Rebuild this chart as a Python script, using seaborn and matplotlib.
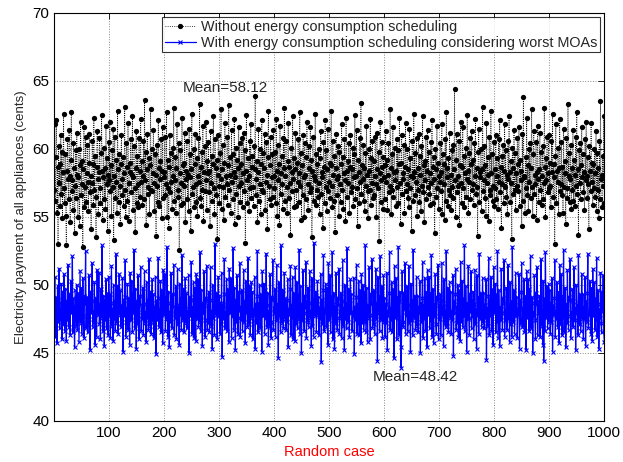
import numpy as np
import matplotlib
matplotlib.use("Agg")
import matplotlib.pyplot as plt
import seaborn as sns

# payment per random case (cents)
without_sched = [
    57.0,61.8,56.2,59.4,62.1,55.3,58.7,53.0,60.2,57.5,58.9,55.8,61.0,56.7,59.8,54.9,58.3,62.6,57.1,56.0,
    59.6,55.1,52.9,58.4,60.7,57.8,56.3,61.4,58.0,54.6,59.2,62.7,56.9,57.7,55.5,60.4,58.6,53.8,57.3,59.9,
    56.4,61.2,58.1,55.0,57.9,60.0,54.3,58.8,62.0,56.6,59.1,57.4,52.8,58.5,61.6,55.7,57.2,60.9,56.1,58.2,
    60.3,57.6,55.4,59.0,61.1,56.8,58.0,54.1,57.5,60.6,58.9,55.9,62.3,57.0,59.5,56.5,53.5,58.7,61.3,57.8,
    55.2,58.3,60.8,57.1,56.0,59.7,62.5,58.4,54.8,57.9,60.1,56.3,58.6,55.6,61.7,57.4,59.3,54.0,58.1,60.5,
    57.7,62.0,56.9,58.8,55.1,59.9,57.2,61.5,53.3,58.0,60.9,56.4,57.6,59.2,55.3,62.8,58.5,56.1,59.6,57.3,
    54.5,58.9,61.0,57.8,56.6,59.4,55.8,58.2,63.1,57.0,55.0,60.4,58.7,56.2,61.9,57.5,54.7,59.0,58.3,60.7,
    56.8,58.1,62.4,55.5,57.9,60.2,57.1,53.9,58.6,61.3,56.0,59.5,57.4,55.7,60.8,58.4,56.5,62.2,57.6,59.1,
    55.9,58.0,60.6,56.3,63.6,57.7,59.8,54.4,58.5,61.1,57.2,56.7,59.3,55.2,58.8,62.9,57.0,60.0,56.9,58.2,
    61.4,57.5,55.4,59.6,58.1,53.6,60.3,57.3,56.1,62.1,58.6,55.8,59.1,57.8,60.7,54.9,58.4,61.6,56.4,57.9,
    58.3,60.9,56.6,57.4,62.7,55.0,59.2,57.1,54.2,58.7,61.0,56.8,59.7,57.6,55.6,60.1,58.0,63.0,56.2,57.7,
    59.4,55.3,58.6,61.8,57.0,56.5,60.4,52.6,58.2,59.9,57.5,55.9,62.3,58.8,56.0,59.0,57.3,61.2,54.6,58.4,
    57.8,60.6,56.3,58.1,55.4,61.5,57.9,59.6,54.0,58.5,62.6,56.7,57.2,60.0,55.7,58.9,61.1,57.4,56.1,59.3,
    55.1,58.0,60.8,57.6,63.3,56.4,58.7,55.8,59.8,57.0,61.7,54.7,58.3,60.2,56.9,57.7,62.0,55.5,59.1,58.2,
    60.5,56.8,58.4,54.3,61.3,57.5,59.5,56.2,58.9,62.4,57.1,55.2,60.7,58.6,56.6,59.2,53.4,58.1,61.0,57.3,
    56.0,59.7,57.8,62.9,55.6,58.5,60.3,57.2,54.8,59.0,61.9,56.5,58.0,57.4,60.9,55.9,58.8,63.2,57.0,59.4,
    58.1,55.3,61.4,57.6,59.6,56.3,58.3,62.2,54.5,57.9,60.1,56.7,59.2,58.6,55.0,61.6,57.3,60.4,56.1,58.9,
    57.5,60.8,55.7,58.2,61.2,56.9,59.9,53.1,58.4,62.5,57.7,56.0,59.3,58.0,55.4,60.6,57.1,61.8,56.4,58.7,
    59.5,57.2,55.8,60.2,58.5,63.9,56.6,57.8,59.1,54.6,58.3,61.5,56.2,57.4,60.0,55.2,58.9,62.1,57.0,59.7,
    56.8,58.6,61.1,55.5,57.6,60.5,58.1,54.1,59.4,62.8,57.3,56.3,58.8,60.9,55.9,57.9,59.6,56.5,61.4,58.0,
    57.1,59.8,56.0,62.2,58.4,55.1,60.3,57.7,58.9,54.4,61.7,56.7,58.2,59.5,57.4,55.6,60.8,58.6,63.0,56.2,
    58.0,60.6,57.2,55.3,59.1,61.9,56.4,58.7,57.5,53.7,60.1,58.3,56.9,62.4,57.8,59.3,55.7,58.5,61.2,57.0,
    55.8,59.0,57.6,60.7,56.1,58.2,62.7,57.3,59.7,54.8,58.8,56.6,61.0,57.9,55.0,60.4,58.1,56.3,59.4,62.0,
    57.4,55.5,60.2,58.6,56.8,61.6,57.1,59.2,53.5,58.4,60.9,56.2,58.0,57.7,62.6,55.9,59.6,57.0,58.9,56.5,
    60.0,57.5,55.2,59.3,61.3,56.7,58.3,57.9,54.2,60.5,58.7,56.0,62.1,57.2,59.9,55.4,58.5,61.5,56.9,57.6,
    59.0,56.4,58.8,62.8,57.3,55.7,60.6,58.1,56.2,59.5,53.9,58.6,61.1,57.8,56.6,60.2,58.0,55.1,59.8,57.4,
    56.1,58.9,61.8,57.0,59.4,55.6,58.2,60.7,57.7,54.7,62.3,58.4,56.5,59.1,57.5,60.4,55.3,58.7,61.0,56.8,
    58.5,57.2,60.1,55.8,59.6,57.9,62.5,56.3,58.0,61.4,57.1,54.3,59.2,58.3,56.0,60.8,57.6,63.4,56.7,58.8,
    57.8,60.3,56.2,58.6,55.4,59.7,57.3,61.7,58.1,56.9,54.9,60.0,58.4,57.0,62.2,55.9,59.3,57.5,60.6,56.4,
    59.1,56.6,58.0,60.9,57.4,55.0,61.2,58.5,57.1,59.8,53.2,58.2,62.0,56.1,57.7,60.5,58.7,55.6,59.4,57.9,
    56.3,58.8,61.3,57.6,59.2,55.5,58.1,60.4,56.8,57.3,62.9,58.6,55.2,59.6,57.0,61.6,56.5,58.3,60.1,57.7,
    58.4,55.8,60.7,57.2,59.9,56.0,58.9,62.3,57.5,54.5,59.0,61.0,56.7,58.2,57.8,60.3,55.3,58.7,61.9,56.9,
    57.4,60.0,56.4,58.5,55.7,61.5,57.1,59.3,58.0,54.0,60.6,57.9,56.2,62.6,58.3,59.7,56.6,57.6,60.8,55.1,
    58.6,57.0,61.1,56.1,59.5,58.1,55.4,60.2,57.3,62.4,56.8,58.8,54.6,59.1,57.7,60.9,56.3,58.4,61.4,57.2,
    59.8,56.7,58.2,55.9,60.5,57.5,62.1,58.7,56.0,59.4,57.8,53.8,60.0,58.5,56.5,61.7,57.1,59.0,55.6,58.0,
    57.6,60.4,56.9,58.3,61.8,55.2,59.6,57.4,58.9,54.8,60.7,56.2,62.7,57.9,58.6,55.8,59.3,57.0,61.2,56.6,
    58.1,55.5,59.9,57.2,60.3,56.4,58.5,64.4,57.7,55.0,59.2,61.1,56.8,58.0,57.3,60.6,54.4,58.8,62.0,57.5,
    56.0,58.7,61.6,57.1,59.5,55.7,58.2,60.1,56.5,57.8,62.5,58.4,55.3,59.7,57.6,60.8,56.3,58.9,61.3,57.0,
    59.2,57.4,55.9,60.4,58.0,62.2,56.7,58.6,57.2,53.6,59.8,61.5,56.1,58.3,57.9,60.0,55.4,58.5,63.1,56.9,
    57.7,60.2,56.4,58.8,55.1,61.9,57.5,59.4,58.1,54.7,60.9,57.0,56.6,62.8,58.2,59.6,56.2,57.3,60.5,55.8,
    58.5,57.1,61.0,56.3,59.3,58.0,55.6,60.7,57.6,62.1,56.8,58.7,54.2,59.5,57.4,60.3,56.0,58.4,61.8,57.2,
    59.9,56.5,58.1,55.2,60.6,57.8,62.4,58.3,56.1,59.1,57.5,53.4,60.1,58.6,56.7,61.4,57.0,59.7,55.5,58.2,
    57.3,60.8,56.9,58.9,61.6,55.8,59.2,57.7,58.4,54.3,61.1,56.2,63.8,57.9,58.0,55.3,59.4,57.1,62.3,56.6,
    58.8,55.4,60.0,57.6,60.4,56.4,58.6,62.9,57.2,55.1,59.6,61.3,56.7,58.1,57.4,60.5,54.8,58.3,61.7,57.8,
    56.1,58.5,61.2,57.0,59.8,55.9,58.0,60.2,56.3,57.5,63.0,58.7,55.0,59.3,57.7,60.9,56.8,58.2,61.0,57.1,
    59.0,57.3,55.7,60.6,58.3,62.6,56.5,58.9,57.9,53.0,59.5,61.8,56.0,58.4,57.6,60.1,55.2,58.6,62.2,56.9,
    57.4,60.5,56.6,58.7,55.3,61.5,57.2,59.1,58.2,54.5,60.8,57.1,56.4,63.3,58.0,59.7,56.1,57.8,60.3,55.6,
    58.6,57.0,61.4,56.2,59.2,58.1,55.8,60.9,57.3,62.7,56.7,58.5,53.7,59.9,57.5,60.4,56.3,58.8,61.6,57.9,
    59.6,56.8,58.3,55.5,60.7,57.7,62.0,58.0,56.4,59.4,57.4,54.1,60.2,58.4,56.9,61.9,57.6,59.0,55.9,58.9,
    57.1,60.0,56.5,58.2,61.3,55.4,59.7,57.0,58.6,54.9,60.6,56.3,63.5,57.8,58.1,55.7,59.5,57.3,62.4,56.0,
]

with_sched = [
    47.8,50.6,46.2,49.1,48.0,45.7,49.9,47.3,48.6,51.2,46.8,48.3,47.5,50.1,46.0,48.9,49.5,47.1,50.8,46.6,
    48.2,49.7,45.9,48.8,47.4,51.5,46.9,48.5,49.3,46.3,50.3,47.9,48.1,52.1,46.5,49.0,47.6,45.4,49.6,48.4,
    47.0,50.0,46.7,48.7,49.4,45.8,48.3,51.0,47.2,49.8,46.4,48.0,50.5,47.7,46.1,49.2,48.6,52.5,46.8,48.9,
    49.1,46.5,48.4,50.7,47.5,45.2,49.5,47.9,48.8,51.6,46.9,48.1,47.3,50.2,45.6,49.0,48.5,46.2,51.1,47.8,
    48.0,50.9,47.1,48.6,46.0,49.7,47.6,52.9,46.6,48.3,49.2,45.5,48.9,47.4,50.4,46.8,49.4,48.1,46.3,50.6,
    47.7,49.3,46.1,48.7,51.4,47.0,48.2,45.9,50.0,47.5,48.8,46.6,52.3,48.4,47.2,49.9,46.4,48.0,50.8,47.8,
    49.6,46.9,48.5,47.3,50.5,45.1,48.9,47.7,49.1,51.8,46.2,48.3,47.6,50.1,46.7,49.0,48.6,45.6,50.9,47.4,
    48.1,50.3,46.5,49.4,47.9,52.6,46.8,48.4,49.7,45.3,48.8,47.1,50.7,47.8,46.0,49.2,48.5,51.3,46.6,48.2,
    47.5,49.8,46.3,48.6,51.0,47.2,48.0,45.8,50.2,47.6,48.9,46.7,51.9,48.3,47.0,49.5,46.4,48.7,50.4,47.3,
    49.3,46.1,48.4,47.9,50.6,44.9,48.8,47.4,49.0,52.0,46.9,48.2,47.7,50.3,46.5,49.6,48.1,45.7,51.1,47.8,
    48.5,50.8,46.6,49.1,47.5,52.8,46.2,48.7,49.5,45.4,48.0,47.3,50.9,47.9,46.8,49.3,48.4,51.5,46.3,48.1,
    47.6,49.9,46.0,48.5,51.2,47.1,48.3,45.6,50.1,47.8,49.0,46.7,52.2,48.6,47.4,49.7,46.5,48.2,50.5,47.2,
    49.4,46.8,48.1,47.6,50.7,45.0,49.1,47.7,48.9,51.7,46.4,48.4,47.0,50.2,46.1,49.8,48.6,45.9,50.8,47.5,
    48.3,50.4,46.9,49.2,47.3,52.4,46.6,48.0,49.6,45.5,48.7,47.9,51.0,47.4,46.2,49.0,48.8,51.4,46.7,48.5,
    47.2,49.5,46.5,48.9,51.3,47.0,48.1,45.3,50.0,47.6,48.4,46.3,53.0,48.2,47.8,49.4,46.0,48.6,50.6,47.7,
    49.2,46.4,48.7,47.1,50.9,44.7,48.5,47.5,49.3,51.9,46.8,48.0,47.4,50.4,46.6,49.7,48.3,45.8,51.2,47.9,
    48.6,50.5,46.1,49.0,47.7,52.7,46.7,48.2,49.8,45.2,48.9,47.3,50.7,47.6,46.4,49.5,48.1,51.6,46.2,48.4,
    47.4,49.6,46.6,48.3,51.1,47.3,48.8,45.7,50.3,47.9,49.1,46.9,52.0,48.5,47.1,49.9,46.3,48.0,50.2,47.6,
    49.5,46.0,48.2,47.8,50.6,45.3,48.6,47.2,49.2,52.5,46.5,48.7,47.5,50.0,46.8,49.3,48.4,45.1,51.0,47.7,
    48.0,50.1,46.4,49.6,47.6,52.3,46.9,48.5,49.4,45.6,48.1,47.0,50.8,47.3,46.1,49.1,48.9,51.8,46.7,48.3,
    47.9,49.7,46.2,48.4,51.5,47.4,48.6,44.6,50.2,47.7,48.8,46.5,52.9,48.1,47.2,49.6,46.8,48.3,50.9,47.5,
    49.0,46.7,48.9,47.3,50.4,45.4,48.2,47.8,49.7,51.4,46.3,48.5,47.6,50.6,46.0,49.4,48.7,45.9,51.3,47.1,
    48.4,50.2,46.8,49.3,47.5,52.6,46.4,48.0,49.9,45.0,48.6,47.4,51.1,47.9,46.6,49.2,48.3,51.7,46.1,48.8,
    47.3,49.8,46.9,48.7,51.0,47.6,48.1,45.5,50.5,47.0,49.0,46.2,53.1,48.4,47.7,49.5,46.5,48.6,50.3,47.8,
    49.1,46.3,48.3,47.5,50.8,44.3,48.9,47.1,49.6,52.2,46.6,48.2,47.9,50.1,46.9,49.8,48.0,45.6,51.6,47.4,
    48.7,50.7,46.5,49.2,47.8,52.4,46.0,48.6,49.4,45.3,48.4,47.2,50.9,47.6,46.7,49.0,48.5,51.2,46.4,48.1,
    47.6,49.4,46.1,48.8,51.8,47.0,48.3,45.2,50.0,47.5,48.7,46.8,52.7,48.2,47.3,49.7,46.2,48.9,50.4,47.9,
    49.3,46.6,48.0,47.7,50.5,44.9,48.4,47.4,49.1,51.5,46.4,48.6,47.1,50.3,46.3,49.6,48.8,45.7,50.8,47.2,
    48.2,50.0,46.7,49.5,47.3,52.9,46.5,48.1,49.8,45.8,48.5,47.6,51.3,47.8,46.0,49.3,48.6,51.9,46.8,48.7,
    47.1,49.6,46.4,48.2,51.2,47.5,48.7,44.4,50.6,47.9,49.2,46.6,52.1,48.0,47.4,49.9,46.1,48.4,50.7,47.3,
    49.0,46.2,48.6,47.2,50.9,45.2,48.1,47.7,49.4,52.4,46.7,48.3,47.4,50.2,46.5,49.7,48.9,44.6,51.4,47.6,
    48.5,50.5,46.0,49.1,47.6,52.8,46.3,48.8,49.5,45.4,43.9,47.1,51.0,47.3,46.9,49.4,48.2,51.6,46.4,48.0,
    47.8,49.9,46.6,48.5,51.4,47.2,48.0,45.1,50.1,47.4,48.9,46.3,52.6,48.6,47.6,49.2,46.7,48.1,50.6,47.0,
    49.2,46.5,48.4,47.9,50.3,45.0,48.7,47.3,49.0,51.7,46.1,48.5,47.5,50.5,46.6,49.5,48.3,45.4,51.1,47.8,
    48.3,50.6,46.8,49.4,47.4,52.2,46.2,48.2,49.7,45.7,48.6,47.7,50.8,47.1,46.4,49.1,48.9,51.5,46.0,48.5,
    47.5,49.3,46.3,48.9,51.6,47.8,48.4,45.5,50.4,47.2,48.1,46.9,52.5,48.7,47.0,49.8,46.5,48.0,50.2,47.6,
    49.5,46.4,48.1,47.4,50.7,44.8,48.8,47.9,49.3,51.2,46.7,48.4,47.2,50.0,46.2,49.6,48.6,45.9,51.7,47.3,
    48.1,50.3,46.9,49.0,47.7,52.9,46.6,48.3,49.9,45.1,48.7,47.5,51.4,47.6,46.3,49.3,48.0,51.0,46.8,48.9,
    47.7,49.5,46.0,48.6,51.1,47.1,48.2,45.3,50.7,47.8,49.1,46.4,52.3,48.5,47.5,49.4,46.9,48.8,50.5,47.2,
    49.4,46.8,48.5,47.6,50.4,44.5,48.3,47.0,49.2,52.0,46.3,48.9,47.7,50.6,46.6,49.7,48.1,45.6,51.3,47.9,
    48.6,50.1,46.5,49.3,47.3,52.5,46.1,48.0,49.6,45.5,48.4,47.4,51.2,47.9,46.7,49.0,48.7,51.8,46.2,48.2,
    47.4,49.8,46.7,48.3,51.5,47.5,48.6,45.8,50.2,47.1,48.8,46.2,52.8,48.1,47.3,49.6,46.4,48.5,50.9,47.7,
    49.1,46.1,48.2,47.8,50.8,45.3,48.9,47.2,49.5,51.6,46.9,48.3,47.0,50.4,46.5,49.2,48.4,45.2,51.0,47.6,
    48.4,50.4,46.6,49.7,47.5,52.1,46.8,48.7,49.1,45.0,48.0,47.7,50.7,47.4,46.0,49.4,48.6,51.3,46.3,48.8,
    47.9,49.2,46.2,48.4,51.9,47.0,48.1,45.6,50.3,44.4,49.0,46.6,52.4,48.2,47.6,49.9,46.8,48.6,50.1,47.3,
    49.6,46.4,48.7,47.3,50.5,45.1,48.5,47.8,49.0,51.8,46.2,48.1,47.5,50.2,46.9,49.5,48.3,45.7,51.5,47.1,
    48.2,50.8,46.3,49.2,47.6,52.6,46.5,48.4,49.8,45.4,48.6,47.2,51.1,47.7,46.7,49.1,48.9,51.9,46.1,48.0,
    47.6,49.7,46.9,48.8,51.3,47.4,48.3,45.2,50.0,47.9,48.5,46.3,52.2,48.7,47.1,49.3,46.6,48.2,50.8,47.5,
    49.3,46.0,48.4,47.5,50.6,45.5,48.8,47.3,49.4,52.3,46.8,48.0,47.8,50.3,46.4,49.8,48.5,45.9,51.2,47.7,
    48.0,50.2,46.7,49.0,47.4,52.0,46.2,48.6,49.6,45.3,48.2,47.6,50.9,47.2,46.5,49.5,48.1,50.7,46.6,45.8,
]

labels = ["Without energy consumption scheduling",
          "With energy consumption scheduling considering worst MOAs"]
mean_texts = ["Mean=58.12", "Mean=48.42"]

cases = np.arange(1, len(without_sched) + 1)

sns.set_style("white")
plt.rcParams['font.family'] = ['Liberation Sans', 'DejaVu Sans']

fig = plt.figure(figsize=(6.23, 4.62), dpi=100)
ax = fig.add_axes([0.087, 0.089, 0.883, 0.883])

# seaborn gives markers a white edge by default, so set the edge colour explicitly
sns.lineplot(x=cases, y=without_sched, ax=ax, color='black', linestyle=':',
             linewidth=0.6, marker='o', markersize=3.8, markeredgewidth=0,
             markeredgecolor='black', legend=False)
sns.lineplot(x=cases, y=with_sched, ax=ax, color='#0000ff', linestyle='-',
             linewidth=0.9, marker='x', markersize=3.5, markeredgewidth=0.8,
             markeredgecolor='#0000ff', legend=False)

ax.set_xlim(1, 1000)
ax.set_ylim(40, 70)
ax.set_xticks(range(100, 1001, 100))
ax.set_yticks(range(40, 71, 5))
ax.tick_params(direction='in', top=True, right=True, length=4, width=0.6,
               labelsize=11, colors='black')
ax.grid(True, linestyle=':', color='#888888', linewidth=0.7)
for s in ax.spines.values():
    s.set_color('black')
    s.set_linewidth(0.8)

ax.set_xlabel("Random case", color='red', fontsize=10.5)
ax.set_ylabel("Electricity payment of all appliances (cents)", fontsize=9.5)

ax.text(235, 64.5, mean_texts[0], fontsize=11, va='center', ha='left')
ax.text(580, 43.2, mean_texts[1], fontsize=11, va='center', ha='left')

leg = ax.legend(ax.lines[:2], labels, loc='upper right', fontsize=10.4,
                frameon=True, fancybox=False, borderaxespad=0.3,
                handlelength=2.2, handletextpad=0.3, borderpad=0.2,
                labelspacing=0.1)
leg.get_frame().set_edgecolor('black')
leg.get_frame().set_linewidth(0.8)

fig.savefig("out.png", dpi=100)
